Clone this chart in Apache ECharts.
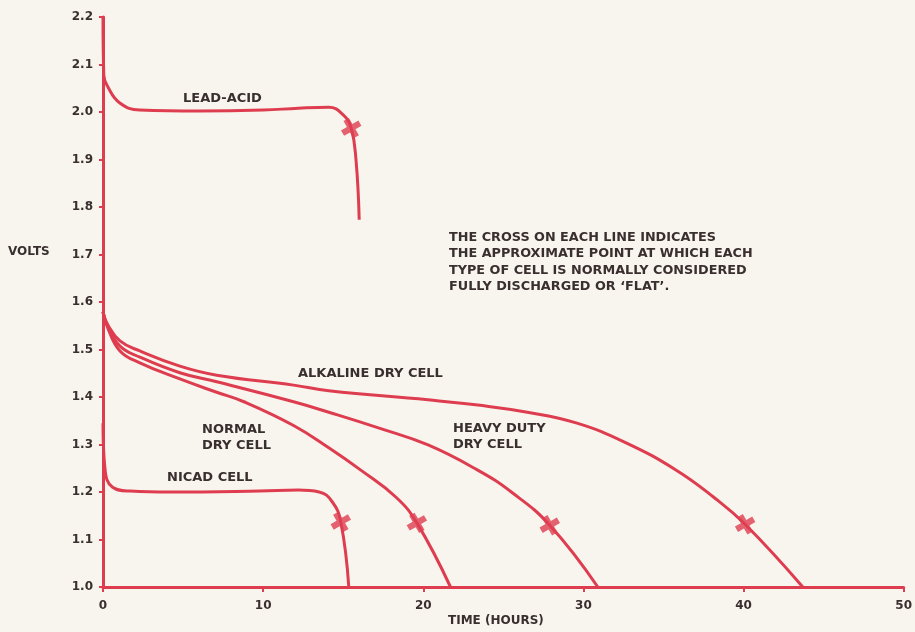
<!DOCTYPE html>
<html>
<head>
<meta charset="utf-8">
<script src="https://cdn.jsdelivr.net/npm/echarts@6/dist/echarts.min.js"></script>
<style>
html,body{margin:0;padding:0;background:#f8f5ee;}
#chart{width:915px;height:632px;}
</style>
</head>
<body>
<div id="chart"></div>
<script>
// Data: [time (hours), volts]
var leadAcid = [[0,2.2],[0.05,2.078],[0.3,2.053],[1.05,2.019],[2.3,2.004],[6.0,2.002],[10.0,2.004],[12.2,2.008],[14.1,2.01],[15.0,1.994],[15.5,1.966],[15.8,1.899],[16.0,1.773]];
var alkaline = [[0,1.579],[0.3,1.552],[1.06,1.518],[2.3,1.497],[4.8,1.465],[7.1,1.446],[11.9,1.425],[14.1,1.413],[20.3,1.394],[23.4,1.383],[26.5,1.368],[29.6,1.345],[32.7,1.303],[35.8,1.246],[38.1,1.19],[40.1,1.132],[43.7,1.0]];
var heavyDuty = [[0,1.579],[0.3,1.548],[1.06,1.507],[2.3,1.484],[4.8,1.451],[7.1,1.432],[11.9,1.39],[14.1,1.368],[17.2,1.335],[20.3,1.299],[23.4,1.246],[25.5,1.2],[27.9,1.13],[30.9,1.0]];
var normalDry = [[0,1.579],[0.3,1.545],[1.06,1.497],[2.3,1.472],[4.8,1.438],[7.1,1.41],[8.8,1.39],[11.9,1.34],[14.1,1.293],[16.1,1.246],[18.3,1.189],[19.6,1.135],[21.7,1.0]];
var nicad = [[0,1.345],[0.12,1.25],[0.6,1.21],[1.7,1.202],[4.2,1.2],[9.8,1.202],[12.2,1.204],[13.5,1.2],[14.3,1.18],[14.85,1.137],[15.35,1.0]];
// Points where each cell is considered flat (crosses)
var flatPoints = [[15.5,1.966],[14.85,1.137],[19.6,1.135],[27.9,1.13],[40.1,1.132]];
var xTicks = [0,10,20,30,40,50];
var yTicks = [1.0,1.1,1.2,1.3,1.4,1.5,1.6,1.7,1.8,1.9,2.0,2.1,2.2];

var RED = '#de3d50';
var TXT = '#3a2f2f';
var FONT = '"DejaVu Sans", sans-serif';

var chart = echarts.init(document.getElementById('chart'));

function lineSeries(name, data) {
  return {
    name: name, type: 'line', data: data,
    smooth: 0.45,
    showSymbol: false, symbol: 'none',
    lineStyle: {color: RED, width: 3},
    z: 3
  };
}

var crossPath = 'path://M-1,-3.2L1,-3.2L1,-1L3.2,-1L3.2,1L1,1L1,3.2L-1,3.2L-1,1L-3.2,1L-3.2,-1L-1,-1Z';

chart.setOption({
  backgroundColor: '#f8f5ee',
  animation: false,
  grid: {left: 103, right: 7, top: 17, bottom: 45, containLabel: false},
  xAxis: {
    type: 'value', min: 0, max: 50, interval: 10,
    axisLine: {show: true, lineStyle: {color: RED, width: 3}},
    axisTick: {show: true, length: 5, lineStyle: {color: RED, width: 2}},
    splitLine: {show: false},
    axisLabel: {color: TXT, fontFamily: FONT, fontWeight: 'bold', fontSize: 12, margin: 13,
      formatter: function(v){ return xTicks.indexOf(v) >= 0 ? String(v) : ''; }}
  },
  yAxis: {
    type: 'value', min: 1.0, max: 2.2, interval: 0.1,
    axisLine: {show: true, lineStyle: {color: RED, width: 3}},
    axisTick: {show: true, length: 4, lineStyle: {color: RED, width: 2}},
    splitLine: {show: false},
    axisLabel: {color: TXT, fontFamily: FONT, fontWeight: 'bold', fontSize: 12, margin: 10,
      formatter: function(v){
        for (var i = 0; i < yTicks.length; i++) { if (Math.abs(yTicks[i] - v) < 1e-6) return yTicks[i].toFixed(1); }
        return '';
      }}
  },
  series: [
    lineSeries('LEAD-ACID', leadAcid),
    lineSeries('ALKALINE DRY CELL', alkaline),
    lineSeries('HEAVY DUTY DRY CELL', heavyDuty),
    lineSeries('NORMAL DRY CELL', normalDry),
    lineSeries('NICAD CELL', nicad),
    {
      name: 'flat', type: 'scatter', data: flatPoints,
      symbol: crossPath, symbolSize: 20, symbolRotate: 30,
      itemStyle: {color: RED}, z: 4
    }
  ],
  graphic: [
    {type: 'text', left: 183, top: 92, style: {text: 'LEAD-ACID', fill: TXT, font: 'bold 13px ' + FONT}},
    {type: 'text', left: 298, top: 367, style: {text: 'ALKALINE DRY CELL', fill: TXT, font: 'bold 13px ' + FONT}},
    {type: 'text', left: 202, top: 422, style: {text: 'NORMAL\nDRY CELL', fill: TXT, font: 'bold 13px ' + FONT, lineHeight: 16}},
    {type: 'text', left: 453, top: 421, style: {text: 'HEAVY DUTY\nDRY CELL', fill: TXT, font: 'bold 13px ' + FONT, lineHeight: 16}},
    {type: 'text', left: 167, top: 471, style: {text: 'NICAD CELL', fill: TXT, font: 'bold 13px ' + FONT}},
    {type: 'text', left: 449, top: 229, style: {
      text: 'THE CROSS ON EACH LINE INDICATES\nTHE APPROXIMATE POINT AT WHICH EACH\nTYPE OF CELL IS NORMALLY CONSIDERED\nFULLY DISCHARGED OR \u2018FLAT\u2019.',
      fill: TXT, font: 'bold 12.8px ' + FONT, lineHeight: 16.5}},
    {type: 'text', left: 8, top: 246, style: {text: 'VOLTS', fill: TXT, font: 'bold 12px ' + FONT}},
    {type: 'text', left: 448, top: 615, style: {text: 'TIME (HOURS)', fill: TXT, font: 'bold 12px ' + FONT}}
  ]
});
</script>
</body>
</html>
